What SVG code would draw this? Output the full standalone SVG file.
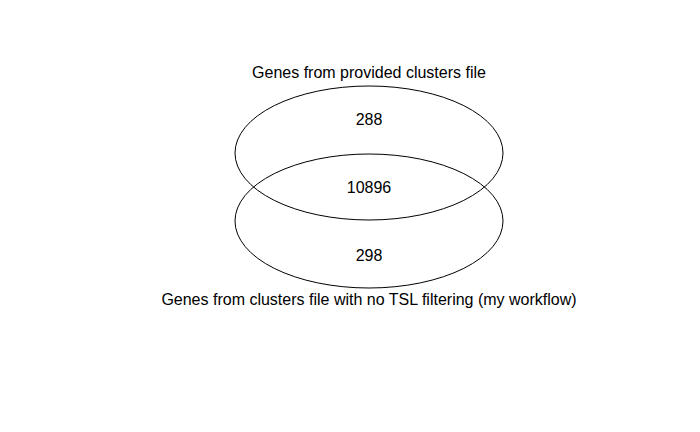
<svg xmlns="http://www.w3.org/2000/svg" width="700" height="432" viewBox="0 0 700 432">
<style>
text{font-family:"Liberation Sans",Arial,sans-serif;font-size:16px;fill:#000;text-anchor:middle;dominant-baseline:central}
ellipse{fill:none;stroke:#000;stroke-width:1}
</style>
<rect width="700" height="432" fill="#fff"/>
<g id="set-provided">
<ellipse cx="369" cy="153" rx="134" ry="67"/>
<text x="369" y="72">Genes from provided clusters file</text>
</g>
<g id="set-workflow">
<ellipse cx="369" cy="221" rx="134" ry="67"/>
<text x="369" y="299">Genes from clusters file with no TSL filtering (my workflow)</text>
</g>
<g id="counts">
<text x="369" y="119">288</text>
<text x="369" y="187">10896</text>
<text x="369" y="255">298</text>
</g>
</svg>
